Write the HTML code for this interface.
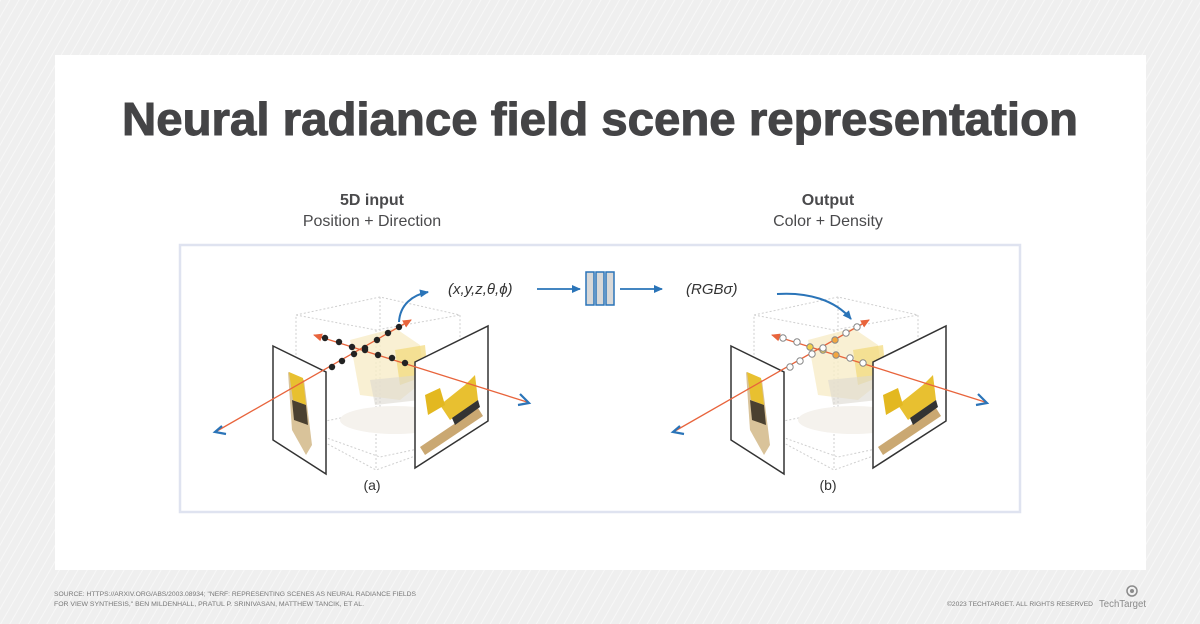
<!DOCTYPE html>
<html><head><meta charset="utf-8"><style>
html,body{margin:0;padding:0;width:1200px;height:624px;overflow:hidden;background:#efefef}
svg{display:block}
</style></head><body>
<svg width="1200" height="624" viewBox="0 0 1200 624" xmlns="http://www.w3.org/2000/svg" font-family="Liberation Sans, sans-serif">
<defs>
<pattern id="st" width="8" height="8" patternUnits="userSpaceOnUse" patternTransform="rotate(30)">
<rect width="8" height="8" fill="#efefef"/><line x1="0" y1="0" x2="0" y2="8" stroke="#f7f7f7" stroke-width="2"/>
</pattern>
<marker id="ab" markerWidth="10" markerHeight="10" refX="8" refY="5" orient="auto" markerUnits="userSpaceOnUse"><path d="M0,1 L9,5 L0,9 z" fill="#2a74b8"/></marker>
<marker id="ar" markerWidth="10" markerHeight="10" refX="8" refY="5" orient="auto" markerUnits="userSpaceOnUse"><path d="M0,1 L9,5 L0,9 z" fill="#e8643c"/></marker>
<g id="scene">
 <g stroke="#cfcfcf" stroke-width="1" stroke-dasharray="2,2" fill="none">
  <path d="M296,315 L380,297 L460,315 L460,440 L380,457 L296,427 Z"/>
  <path d="M296,315 L376,330 L460,315 M376,330 L376,470 M296,427 L376,470 L460,440 M380,297 L380,410 M296,427 L380,410 L460,440"/>
 </g>
 <ellipse cx="395" cy="420" rx="55" ry="14" fill="#f5f2ed"/>
 <path d="M350,340 L395,328 L420,345 L425,380 L400,400 L360,395 Z" fill="#f8ecc8" opacity="0.8"/>
 <path d="M395,350 L425,345 L428,375 L400,385 Z" fill="#f2d878" opacity="0.7"/>
 <path d="M370,380 L420,375 L420,400 L375,405 Z" fill="#dcd8d0" opacity="0.6"/>
 <path d="M273,346 L326,372 L326,474 L273,440 Z" fill="#fff" stroke="#333" stroke-width="1.5"/>
 <path d="M288,372 L304,380 L312,445 L306,455 L292,430 Z" fill="#d9c39a"/>
 <path d="M289,372 L303,378 L306,405 L293,400 Z" fill="#e8c030"/>
 <path d="M292,400 L306,405 L308,425 L294,420 Z" fill="#4a4030"/>
 <path d="M415,362 L488,326 L488,421 L415,468 Z" fill="#fff" stroke="#333" stroke-width="1.5"/>
 <path d="M420,447 L478,408 L483,416 L425,455 Z" fill="#caa872"/>
 <path d="M440,405 L465,385 L475,375 L478,400 L450,420 Z" fill="#e8c030"/>
 <path d="M452,418 L478,400 L480,407 L455,425 Z" fill="#333"/>
 <path d="M425,395 L440,388 L445,405 L428,415 Z" fill="#e3b820"/>
 <line x1="217" y1="431" x2="411" y2="320" stroke="#e8643c" stroke-width="1.3" marker-end="url(#ar)"/>
 <line x1="527" y1="402" x2="314" y2="335" stroke="#e8643c" stroke-width="1.3" marker-end="url(#ar)"/>
 <path d="M222,426 L215,432 L226,434" fill="none" stroke="#2a74b8" stroke-width="2.2"/>
 <path d="M520,394 L529,403 L518,405" fill="none" stroke="#2a74b8" stroke-width="2.2"/>
</g>
</defs>
<rect width="1200" height="624" fill="url(#st)"/>
<rect x="55" y="55" width="1091" height="515" fill="#fff"/>
<text x="600" y="135" text-anchor="middle" font-size="46" font-weight="bold" fill="#444446" stroke="#444446" stroke-width="1" textLength="956" lengthAdjust="spacingAndGlyphs">Neural radiance field scene representation</text>
<g fill="#4a4a4c" text-anchor="middle" font-size="16">
<text x="372" y="205" font-weight="bold">5D input</text>
<text x="372" y="226">Position + Direction</text>
<text x="828" y="205" font-weight="bold">Output</text>
<text x="828" y="226">Color + Density</text>
</g>
<rect x="180" y="245" width="840" height="267" fill="#fff" stroke="#dfe3f0" stroke-width="2.5"/>

<use href="#scene"/>
<g fill="#222">
 <circle cx="325" cy="338" r="3.2"/><circle cx="339" cy="342" r="3.2"/><circle cx="352" cy="347" r="3.2"/><circle cx="365" cy="350" r="3.2"/><circle cx="378" cy="355" r="3.2"/><circle cx="392" cy="358" r="3.2"/><circle cx="405" cy="363" r="3.2"/>
 <circle cx="332" cy="367" r="3.2"/><circle cx="342" cy="361" r="3.2"/><circle cx="354" cy="354" r="3.2"/><circle cx="365" cy="348" r="3.2"/><circle cx="377" cy="340" r="3.2"/><circle cx="388" cy="333" r="3.2"/><circle cx="399" cy="327" r="3.2"/>
</g>
<path d="M399,322 C400,305 412,295 428,292" fill="none" stroke="#2a74b8" stroke-width="2" marker-end="url(#ab)"/>
<text x="448" y="294" font-size="15" font-style="italic" fill="#333">(x,y,z,θ,ϕ)</text>
<line x1="537" y1="289" x2="580" y2="289" stroke="#2a74b8" stroke-width="1.8" marker-end="url(#ab)"/>
<g fill="#d8d8d8" stroke="#2a74b8" stroke-width="1.5">
 <rect x="586" y="272" width="8" height="33"/><rect x="596" y="272" width="8" height="33"/><rect x="606" y="272" width="8" height="33"/>
</g>
<line x1="620" y1="289" x2="662" y2="289" stroke="#2a74b8" stroke-width="1.8" marker-end="url(#ab)"/>
<text x="686" y="294" font-size="15" font-style="italic" fill="#333">(RGBσ)</text>
<text x="372" y="490" text-anchor="middle" font-size="14" fill="#333">(a)</text>

<use href="#scene" transform="translate(458,0)"/>
<g fill="#fff" stroke="#888" stroke-width="1">
 <circle cx="783" cy="338" r="3.2"/><circle cx="797" cy="342" r="3.2"/><circle cx="810" cy="347" r="3.2" fill="#f3d24a"/><circle cx="823" cy="350" r="3.2" fill="#f3d24a"/><circle cx="836" cy="355" r="3.2" fill="#f2a640"/><circle cx="850" cy="358" r="3.2"/><circle cx="863" cy="363" r="3.2"/>
 <circle cx="790" cy="367" r="3.2"/><circle cx="800" cy="361" r="3.2"/><circle cx="812" cy="354" r="3.2"/><circle cx="823" cy="348" r="3.2"/><circle cx="835" cy="340" r="3.2" fill="#f2a640"/><circle cx="846" cy="333" r="3.2"/><circle cx="857" cy="327" r="3.2"/>
</g>
<path d="M777,294 C808,292 835,300 851,319" fill="none" stroke="#2a74b8" stroke-width="2" marker-end="url(#ab)"/>
<text x="828" y="490" text-anchor="middle" font-size="14" fill="#333">(b)</text>

<g fill="#777" font-size="6.2">
<text x="54" y="596" textLength="362" lengthAdjust="spacingAndGlyphs">SOURCE: HTTPS://ARXIV.ORG/ABS/2003.08934; "NERF: REPRESENTING SCENES AS NEURAL RADIANCE FIELDS</text>
<text x="54" y="606" textLength="310" lengthAdjust="spacingAndGlyphs">FOR VIEW SYNTHESIS," BEN MILDENHALL, PRATUL P. SRINIVASAN, MATTHEW TANCIK, ET AL.</text>
<text x="947" y="606" textLength="146" lengthAdjust="spacingAndGlyphs">©2023 TECHTARGET. ALL RIGHTS RESERVED</text>
</g>
<text x="1099" y="607" font-size="10" fill="#8a8a8a" textLength="47" lengthAdjust="spacingAndGlyphs">TechTarget</text>
<circle cx="1132" cy="591" r="5" fill="none" stroke="#8a8a8a" stroke-width="1.5"/>
<circle cx="1132" cy="591" r="2" fill="#8a8a8a"/>
</svg>
</body></html>
